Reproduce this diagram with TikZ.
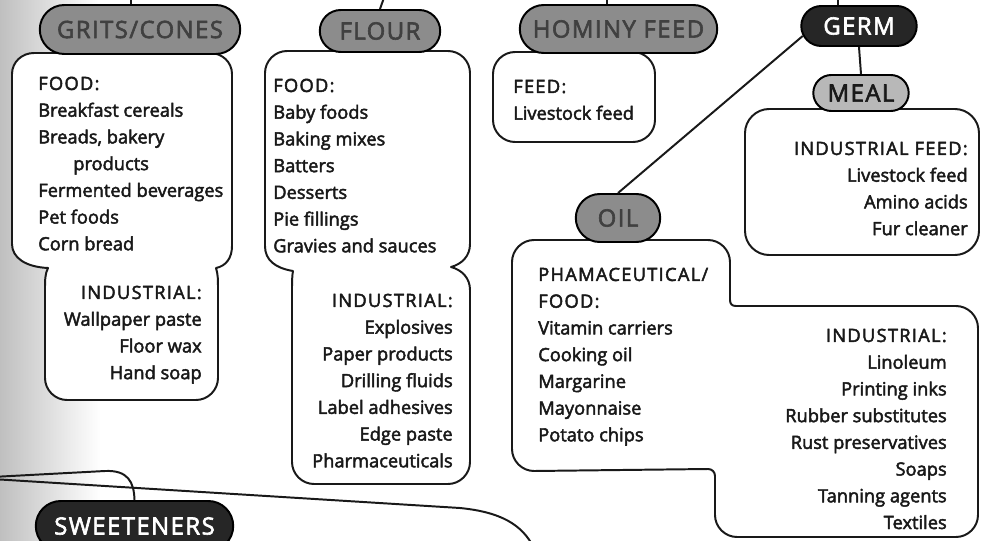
\documentclass[tikz,border=0pt]{standalone}
\usepackage{fontspec}
\setmainfont{Open Sans}[FakeBold=2.5]
\usepackage{xcolor}
\usepackage{tikz}
\usetikzlibrary{shapes.misc}
\usetikzlibrary{positioning}
\newcommand{\capsline}[1]{{\addfontfeature{LetterSpace=7}#1}}
\tikzset{
    pill/.style = {rounded rectangle, draw=black, line width=1.4pt, fill=black!45, text=black!75, font=\fontsize{17}{19}\selectfont\addfontfeature{LetterSpace=6}, inner sep=2pt},
    pilll/.style = {pill, fill=black!28, text=black!90},
    pilld/.style = {pill, fill=black!85, text=white},
    boxline/.style = {draw=black!90, line width=1.4pt, fill=white},
    itemsl/.style = {inner sep=0pt, align=left, anchor=north west, font=\fontsize{13}{19}\selectfont, text=black!90},
    itemsr/.style = {itemsl, align=right, anchor=north east},
}

\begin{document}
\begin{tikzpicture}[
	x=0.025cm,
	y=-0.025cm,
	line join=round
]
\tikzset{
    edgen/.style = {-, line width=1.4pt, black!90},
}
\path[use as bounding box, clip] (0,0) rectangle (981,540);
\fill[white] (0,0) rectangle (981,540);
\shade[left color=black!25, right color=white] (0,0) rectangle (100,540);
%
% boxes
\draw[boxline] (52,53) -- (34,53) .. controls (22,53) and (12,62) .. (12,74)
  -- (12,244) .. controls (12,258) and (26,267) .. (48,268)
  .. controls (45,274) and (45,280) .. (45,290)
  -- (45,378) .. controls (45,390) and (55,400) .. (67,400)
  -- (196,400) .. controls (208,400) and (218,390) .. (218,378)
  -- (218,290) .. controls (218,280) and (218,274) .. (216,268)
  .. controls (226,266) and (232,258) .. (232,246)
  -- (232,74) .. controls (232,62) and (222,53) .. (210,53) -- cycle;
\draw[boxline] (300,51) -- (287,51) .. controls (275,51) and (265,61) .. (265,73)
  -- (265,246) .. controls (265,260) and (275,268) .. (293,271)
  .. controls (292,276) and (292,282) .. (292,292)
  -- (292,462) .. controls (292,474) and (302,484) .. (314,484)
  -- (448,484) .. controls (460,484) and (470,474) .. (470,462)
  -- (470,290) .. controls (470,278) and (462,270) .. (451,267)
  .. controls (462,264) and (470,256) .. (470,244)
  -- (470,73) .. controls (470,61) and (460,51) .. (448,51) -- cycle;
\draw[boxline] (530,52) -- (515,52) .. controls (503,52) and (493,62) .. (493,74)
  -- (493,120) .. controls (493,132) and (503,142) .. (515,142)
  -- (633,142) .. controls (645,142) and (655,132) .. (655,120)
  -- (655,74) .. controls (655,62) and (645,52) .. (633,52) -- cycle;
\draw[boxline] (820,109) -- (769,109) .. controls (756,109) and (745,120) .. (745,133)
  -- (745,231) .. controls (745,244) and (756,255) .. (769,255)
  -- (955,255) .. controls (968,255) and (979,244) .. (979,231)
  -- (979,133) .. controls (979,120) and (968,109) .. (955,109) -- cycle;
\draw[boxline] (590,240) -- (534,240) .. controls (522,240) and (512,250) .. (512,262)
  -- (512,449) .. controls (512,461) and (522,471) .. (534,471)
  -- (708,469) .. controls (712,469) and (715,472) .. (715,476)
  -- (715,515) .. controls (715,527) and (725,537) .. (737,537)
  -- (956,537) .. controls (968,537) and (978,527) .. (978,515)
  -- (978,328) .. controls (978,316) and (968,306) .. (956,306)
  -- (736,306) .. controls (732,306) and (730,304) .. (730,300)
  -- (730,262) .. controls (730,250) and (720,240) .. (708,240) -- cycle;
%
% labels
\node[pill, minimum width=5.15cm, minimum height=1.225cm] at (140,29.5) (grits) {GRITS/CONES};
\node[pill, minimum width=3.15cm, minimum height=1.05cm] at (380,31) (flour) {FLOUR};
\node[pill, minimum width=5.075cm, minimum height=1.2cm] at (618.5,29) (hominy) {HOMINY FEED};
\node[pill, minimum width=2.25cm, minimum height=1.2cm] at (618,218) (oil) {OIL};
\node[pilld, minimum width=3.025cm, minimum height=1.0cm] at (859,26) (germ) {GERM};
\node[pilll, minimum width=2.525cm, minimum height=0.9cm] at (861,93) (meal) {MEAL};
\node[pilld, minimum width=5.075cm, minimum height=1.25cm] at (134.5,526) (sweet) {SWEETENERS};
%
% connectors
\coordinate (gritsup) at (131,-8);
\coordinate (flourup) at (386,-8);
\coordinate (hominyup) at (607,-8);
\coordinate (germup) at (838,-8);
\coordinate (sweetin) at (-8,477);
\coordinate (sweetbend) at (105,471);
\coordinate (boxin) at (-8,479);
\coordinate (boxbend) at (460,508);
\coordinate (boxout) at (534,548);
\draw[edgen] (grits.north -| gritsup) -- (gritsup);
\draw[edgen] (flour.north) -- (flourup);
\draw[edgen] (hominy.north -| hominyup) -- (hominyup);
\draw[edgen] (germ.north -| germup) -- (germup);
\draw[edgen] (oil.north) -- (germ.190);
\draw[edgen] (germ.south) -- (meal.north);
\draw[edgen] (sweetin) -- (sweetbend) .. controls (128,470) and (134,482) .. (sweet.north);
\draw[edgen] (boxin) -- (boxbend) .. controls (500,512) and (522,524) .. (boxout);
%
% lists
\node[itemsl] at (38,71) (gritsfood) {\strut\capsline{FOOD:}\\Breakfast cereals\\Breads, bakery\\\hspace*{0.875cm}products\\Fermented beverages\\Pet foods\\Corn bread};
\node[itemsr] at (202,280) (gritsind) {\strut\capsline{INDUSTRIAL:}\\Wallpaper paste\\Floor wax\\Hand soap};
\node[itemsl] at (273,73) (flourfood) {\strut\capsline{FOOD:}\\Baby foods\\Baking mixes\\Batters\\Desserts\\Pie fillings\\Gravies and sauces};
\node[itemsr] at (453,288) (flourind) {\strut\capsline{INDUSTRIAL:}\\Explosives\\Paper products\\Drilling fluids\\Label adhesives\\Edge paste\\Pharmaceuticals};
\node[itemsl] at (513,74) (hominyfeed) {\strut\capsline{FEED:}\\Livestock feed};
\node[itemsr] at (968,136) (mealind) {\strut\capsline{INDUSTRIAL FEED:}\\Livestock feed\\Amino acids\\Fur cleaner};
\node[itemsl] at (538,262) (oilfood) {\strut\capsline{PHAMACEUTICAL/}\\\capsline{FOOD:}\\Vitamin carriers\\Cooking oil\\Margarine\\Mayonnaise\\Potato chips};
\node[itemsr] at (947,323) (oilind) {\strut\capsline{INDUSTRIAL:}\\Linoleum\\Printing inks\\Rubber substitutes\\Rust preservatives\\Soaps\\Tanning agents\\Textiles};
\end{tikzpicture}
\end{document}
